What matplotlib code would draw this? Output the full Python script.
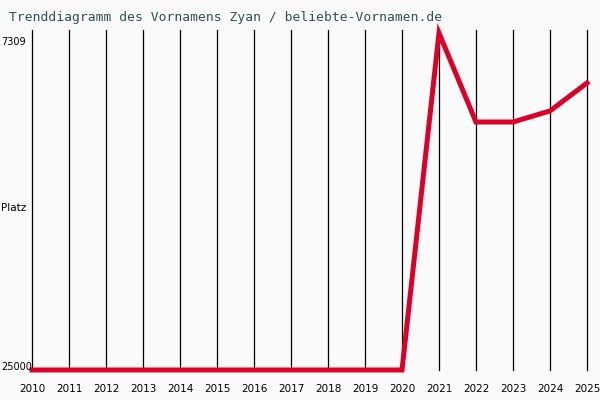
import matplotlib.pyplot as plt

# rank of the name per year (lower = more popular)
years = [2010, 2011, 2012, 2013, 2014, 2015, 2016, 2017, 2018, 2019, 2020, 2021, 2022, 2023, 2024, 2025]
platz = [25000, 25000, 25000, 25000, 25000, 25000, 25000, 25000, 25000, 25000, 25000, 7309, 11980, 11980, 11400, 9930]
y_top_label = "7309"
y_bottom_label = "25000"
title = "Trenddiagramm des Vornamens Zyan / beliebte-Vornamen.de"

fig = plt.figure(figsize=(6, 4), dpi=100, facecolor="#fafafa")
ax = fig.add_axes([32 / 600, 0.075, (587 - 32) / 600, 0.85])
ax.set_facecolor("#fafafa")

ax.set_xlim(years[0], years[-1])
ax.set_ylim(25000, 7150)

for yr in years:
    ax.axvline(yr, color="black", linewidth=0.9, zorder=1, clip_on=False)

ax.plot(years, platz, color="#dc0028", linewidth=3.6, zorder=3,
        solid_joinstyle="miter", clip_on=False)

for s in ax.spines.values():
    s.set_visible(False)
ax.set_yticks([])
ax.set_xticks(years)
ax.set_xticklabels([str(y) for y in years], fontsize=7.5, family="DejaVu Sans")
ax.tick_params(axis="x", length=0, pad=10)

fig.text(1 / 600, 1 - 42 / 400, y_top_label, ha="left", va="center", fontsize=7)
fig.text(1 / 600, 1 - 208 / 400, "Platz", ha="left", va="center", fontsize=7.5)
fig.text(1 / 600, 1 - 367 / 400, y_bottom_label, ha="left", va="center", fontsize=7)

fig.text(9 / 600, 1 - 18 / 400, title, ha="left", va="center",
         fontsize=9.4, family="DejaVu Sans Mono", color="#2f4f4f")

fig.savefig("out.png", dpi=100, facecolor=fig.get_facecolor())
